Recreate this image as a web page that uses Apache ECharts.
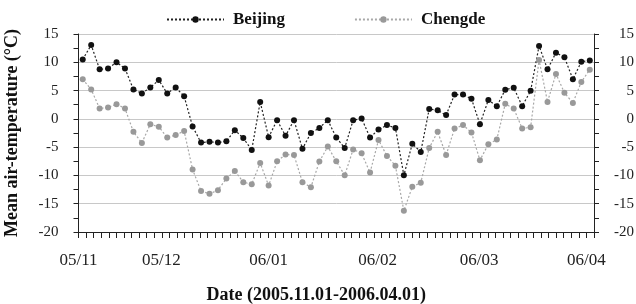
<!DOCTYPE html>
<html>
<head>
<meta charset="utf-8">
<script src="https://cdn.jsdelivr.net/npm/echarts@6/dist/echarts.min.js"></script>
<style>
    html, body { margin: 0; padding: 0; background: #fff; }
    #main { width: 636px; height: 304px; }
</style>
</head>
<body>
<div id="main"></div>
<script>
    // 数据
    var beijing = [10.5, 13.05, 8.75, 8.9, 10.0, 8.9, 5.2, 4.5, 5.55, 6.85,
        4.5, 5.55, 4.0, -1.35, -4.2, -4.05, -4.2, -3.95, -2.0, -3.4,
        -5.5, 3.0, -3.25, -0.23, -3.0, -0.23, -5.3, -2.5, -1.6, -0.23,
        -3.3, -5.15, -0.23, 0.07, -3.3, -1.9, -1.1, -1.6, -9.97, -4.4,
        -5.85, 1.75, 1.5, 0.66, 4.3, 4.3, 3.55, -0.94, 3.35, 2.25,
        5.15, 5.5, 2.25, 4.96, 12.9, 8.75, 11.7, 10.9, 7.0, 10.1, 10.3];
    var chengde = [7.0, 5.2, 1.84, 2.0, 2.6, 1.84, -2.3, -4.25, -0.94, -1.4,
        -3.3, -2.85, -2.15, -8.97, -12.75, -13.25, -12.6, -10.55, -9.2, -11.2,
        -11.56, -7.8, -11.8, -7.5, -6.3, -6.4, -11.2, -12.1, -7.55, -4.9,
        -7.5, -9.97, -5.4, -6.1, -9.5, -3.75, -6.55, -8.3, -16.25, -12.0,
        -11.3, -5.15, -2.3, -6.4, -1.7, -1.1, -2.4, -7.3, -4.5, -3.65,
        2.65, 1.84, -1.7, -1.5, 10.4, 3.0, 7.95, 4.6, 2.82, 6.53, 8.7];
    var dateLabels = ['05/11', '05/12', '06/01', '06/02', '06/03', '06/04'];
    var dateLabelPos = [0, 9.8, 22.5, 35.4, 47.4, 60.1];

    var serif = 'Liberation Serif';
    var axisColor = '#222';
    var n = beijing.length;

    // 每个点放在分类的中间
    function toPoints(arr) {
        return arr.map(function (v, i) { return [i + 0.5, v]; });
    }

    // x 轴小刻度
    var xTicks = [];
    for (var k = 0; k <= 68; k++) {
        xTicks.push(k * n / 68);
    }

    var labelMap = {};
    dateLabelPos.forEach(function (p, i) { labelMap[p] = dateLabels[i]; });

    function yAxisBase(pos) {
        return {
            type: 'value',
            position: pos,
            min: -20,
            max: 15,
            interval: 5,
            axisLine: { show: true, lineStyle: { color: axisColor, width: 1 } },
            axisTick: { show: true, inside: false, length: 5, lineStyle: { color: axisColor } },
            minorTick: { show: true, splitNumber: 2, length: 5, lineStyle: { color: axisColor } },
            axisLabel: { fontFamily: serif, fontSize: 15, color: '#222', margin: 20 },
            splitLine: { show: false }
        };
    }

    var yLeft = yAxisBase('left');
    yLeft.name = 'Mean air-temperature (°C)';
    yLeft.nameLocation = 'middle';
    yLeft.nameRotate = 90;
    yLeft.nameGap = 57;
    yLeft.nameTextStyle = { fontFamily: serif, fontSize: 18, fontWeight: 'bold', color: '#111' };
    yLeft.splitLine = { show: true, lineStyle: { color: '#c8c8c8', width: 1 } };

    var yRight = yAxisBase('right');
    yRight.axisLabel = { fontFamily: serif, fontSize: 15, color: '#222', margin: 40, align: 'right' };

    var myChart = echarts.init(document.getElementById('main'));
    var options = {
        animation: false,
        backgroundColor: '#fff',
        grid: { left: 78.5, right: 42, top: 34, bottom: 72, outerBoundsMode: 'none' },
        legend: {
            data: ['Beijing', 'Chengde'],
            left: 161,
            top: 6,
            itemWidth: 57,
            itemHeight: 8,
            itemGap: 69,
            textStyle: { fontFamily: serif, fontSize: 17, fontWeight: 'bold', color: '#111', padding: [0, 0, 0, 4] }
        },
        xAxis: {
            type: 'value',
            min: 0,
            max: n,
            name: 'Date (2005.11.01-2006.04.01)',
            nameLocation: 'middle',
            nameGap: 54,
            nameTextStyle: { fontFamily: serif, fontSize: 18, fontWeight: 'bold', color: '#111', padding: [0, 40, 0, 0] },
            axisLine: { show: true, onZero: false, lineStyle: { color: axisColor, width: 1 } },
            axisTick: { show: true, length: 6, customValues: xTicks, lineStyle: { color: axisColor } },
            axisLabel: {
                fontFamily: serif, fontSize: 17, color: '#222', margin: 20,
                customValues: dateLabelPos,
                formatter: function (v) { return labelMap[v] || ''; }
            },
            splitLine: { show: false }
        },
        yAxis: [yLeft, yRight],
        series: [
            {
                name: 'Chengde',
                type: 'line',
                data: toPoints(chengde),
                symbol: 'circle',
                symbolSize: 6,
                itemStyle: { color: '#999' },
                lineStyle: { color: '#a8a8a8', width: 1.2, type: [2, 2] }
            },
            {
                name: 'Beijing',
                type: 'line',
                data: toPoints(beijing),
                symbol: 'circle',
                symbolSize: 6,
                itemStyle: { color: '#111' },
                lineStyle: { color: '#222', width: 1.2, type: [2, 2] }
            }
        ]
    };
    // 绘制图表
    myChart.setOption(options);
</script>
</body>
</html>
